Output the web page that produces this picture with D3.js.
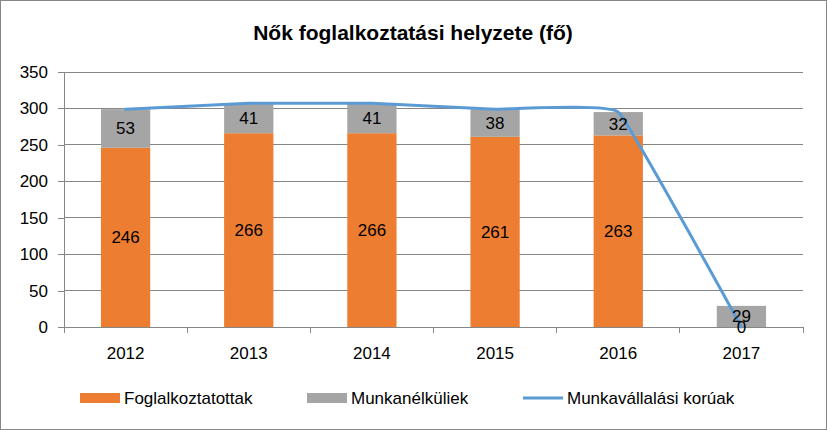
<!DOCTYPE html>
<html>
<head>
<meta charset="utf-8">
<script src="https://cdn.jsdelivr.net/npm/d3@7"></script>
<style>
  body { margin: 0; background: #fff; }
  svg text { font-family: "Liberation Sans", "DejaVu Sans", sans-serif; fill: #000; }
  .title { font-weight: bold; font-size: 21px; }
  .axis text { font-size: 17px; }
  .lbl { font-size: 17px; }
  .legend text { font-size: 17px; }
</style>
</head>
<body>
<div id="chart"></div>
<script>
const years = ["2012", "2013", "2014", "2015", "2016", "2017"];
const employed = [246, 266, 266, 261, 263, 0];
const unemployed = [53, 41, 41, 38, 32, 29];
const workingAge = [299, 307, 307, 299, 295, 0];
const yTicks = [0, 50, 100, 150, 200, 250, 300, 350];
const seriesNames = ["Foglalkoztatottak", "Munkanélküliek", "Munkavállalási korúak"];
const colors = ["#ED7D31", "#A5A5A5", "#5B9BD5"];

const W = 827, H = 430;
const margin = { top: 72, right: 24, bottom: 103, left: 64 };
const width = W - margin.left - margin.right;
const height = H - margin.top - margin.bottom;

const root = d3.select("#chart").append("svg")
  .attr("width", W).attr("height", H);

root.append("rect")
  .attr("x", 0.5).attr("y", 0.5)
  .attr("width", W - 1).attr("height", H - 1)
  .attr("fill", "#fff").attr("stroke", "#868686");

root.append("text")
  .attr("class", "title")
  .attr("x", 413).attr("y", 40)
  .attr("text-anchor", "middle")
  .text("Nők foglalkoztatási helyzete (fő)");

const svg = root.append("g")
  .attr("transform", `translate(${margin.left},${margin.top})`);

const x = d3.scaleBand().domain(years).range([0, width]).paddingInner(0.6).paddingOuter(0.3);
const y = d3.scaleLinear().domain([0, 350]).range([height, 0]);

// gridlines
svg.append("g")
  .selectAll("line")
  .data(yTicks.slice(1))
  .join("line")
  .attr("x1", 0).attr("x2", width)
  .attr("y1", d => y(d)).attr("y2", d => y(d))
  .attr("stroke", "#868686").attr("stroke-width", 1)
  .attr("shape-rendering", "crispEdges");

// y axis
const yAxis = svg.append("g").attr("class", "axis")
  .call(d3.axisLeft(y).tickValues(yTicks).tickSize(6).tickPadding(10));
yAxis.selectAll("line, path").attr("stroke", "#868686").attr("shape-rendering", "crispEdges");

// x axis with ticks at category boundaries
const xAxis = svg.append("g").attr("class", "axis")
  .attr("transform", `translate(0,${height})`)
  .call(d3.axisBottom(x).tickSize(0).tickPadding(20));
xAxis.select(".domain").attr("stroke", "#868686").attr("shape-rendering", "crispEdges");
const boundaries = d3.range(years.length + 1).map(i => i * width / years.length);
svg.append("g")
  .selectAll("line")
  .data(boundaries)
  .join("line")
  .attr("x1", d => d).attr("x2", d => d)
  .attr("y1", height).attr("y2", height + 6)
  .attr("stroke", "#868686")
  .attr("shape-rendering", "crispEdges");

// stacked bars
const rows = years.map((yr, i) => ({ year: yr, a: employed[i], b: unemployed[i] }));
const stacked = d3.stack().keys(["a", "b"])(rows);

const layers = svg.append("g")
  .selectAll("g")
  .data(stacked)
  .join("g")
  .attr("fill", (d, i) => colors[i]);

layers.selectAll("rect")
  .data(d => d)
  .join("rect")
  .attr("x", d => x(d.data.year))
  .attr("y", d => y(d[1]))
  .attr("width", x.bandwidth())
  .attr("height", d => y(d[0]) - y(d[1]));

// line, lightly smoothed
const line = d3.line()
  .x((d, i) => x(years[i]) + x.bandwidth() / 2)
  .y(d => y(d))
  .curve(d3.curveCardinal.tension(0.75));

svg.append("path")
  .datum(workingAge)
  .attr("fill", "none")
  .attr("stroke", colors[2])
  .attr("stroke-width", 3)
  .attr("stroke-linecap", "round")
  .attr("d", line);

// data labels
stacked.forEach(layer => {
  svg.append("g")
    .selectAll("text")
    .data(layer)
    .join("text")
    .attr("class", "lbl")
    .attr("x", d => x(d.data.year) + x.bandwidth() / 2)
    .attr("y", d => (y(d[0]) + y(d[1])) / 2)
    .attr("dy", "0.35em")
    .attr("text-anchor", "middle")
    .text(d => d[1] - d[0]);
});

// legend
const legend = root.append("g").attr("class", "legend");
const legendX = [80, 307, 523];
seriesNames.forEach((name, i) => {
  const g = legend.append("g").attr("transform", `translate(${legendX[i]},398)`);
  if (i < 2) {
    g.append("rect").attr("x", 0).attr("y", -5).attr("width", 40).attr("height", 10).attr("fill", colors[i]);
  } else {
    g.append("line").attr("x1", 0).attr("x2", 40).attr("y1", 0).attr("y2", 0)
      .attr("stroke", colors[i]).attr("stroke-width", 3);
  }
  g.append("text").attr("x", 44).attr("y", 0).attr("dy", "0.35em").text(name);
});
</script>
</body>
</html>
